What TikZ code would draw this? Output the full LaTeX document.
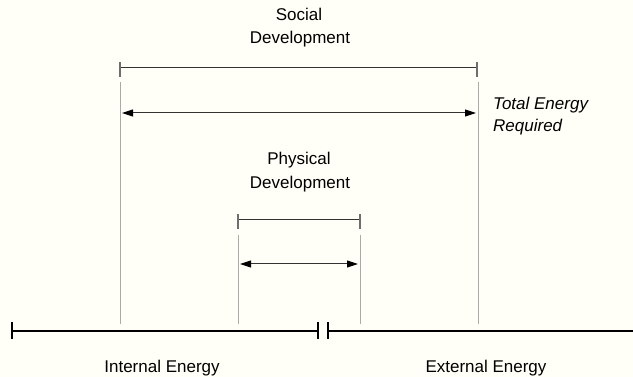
\documentclass[tikz,border=0pt]{standalone}
\usepackage{fontspec}
\setmainfont{Liberation Sans}
\usetikzlibrary{arrows.meta}
\definecolor{paper}{RGB}{255,255,247}
\definecolor{barline}{RGB}{51,51,51}
\definecolor{tickgray}{RGB}{110,110,110}
\definecolor{guide}{RGB}{170,170,170}
\tikzset{
  label/.style={inner sep=0pt, anchor=base, font=\fontsize{17}{23}\selectfont},
  axisline/.style={line width=2pt, black},
  axistick/.style={line width=2pt, black},
  spanbar/.style={line width=1pt, barline},
  spantick/.style={line width=1.3pt, tickgray},
  guideline/.style={line width=1pt, guide},
  spanarrow/.style={line width=1pt, barline,
    {Triangle[length=11pt,width=7pt,black]}-{Triangle[length=11pt,width=7pt,black]}}
}
\begin{document}
\begin{tikzpicture}[x=1pt,y=-1pt]
  \fill[paper] (0,0) rectangle (633,377);
  \useasboundingbox (0,0) rectangle (633,377);

  % energy axis
  \coordinate (axL) at (12,331);
  \coordinate (axM1) at (318,331);
  \coordinate (axM2) at (328,331);
  \coordinate (axR) at (633,331);
  \draw[axisline] (axL) -- (axM1);
  \draw[axisline] (axM2) -- (axR);
  \draw[axistick] ([yshift=-8pt]axL) -- ([yshift=9pt]axL);
  \draw[axistick] ([yshift=-8pt]axM1) -- ([yshift=9pt]axM1);
  \draw[axistick] ([yshift=-8pt]axM2) -- ([yshift=9pt]axM2);

  % social development span
  \coordinate (sL) at (120,68);
  \coordinate (sR) at (477,68);
  \draw[spanbar] (sL) -- (sR);
  \draw[spantick] ([yshift=-9pt]sL) -- ([yshift=6pt]sL);
  \draw[spantick] ([yshift=-9pt]sR) -- ([yshift=6pt]sR);
  \coordinate (gsLt) at (120,82);
  \coordinate (gsLb) at (120,324);
  \coordinate (gsRt) at (478,82);
  \coordinate (gsRb) at (478,324);
  \draw[guideline] (gsLt) -- (gsLb);
  \draw[guideline] (gsRt) -- (gsRb);
  \coordinate (saL) at (122,113);
  \coordinate (saR) at (476,113);
  \draw[spanarrow] (saL) -- (saR);

  % physical development span
  \coordinate (pL) at (238,220);
  \coordinate (pR) at (360,220);
  \draw[spanbar] (pL) -- (pR);
  \draw[spantick] ([yshift=-9pt]pL) -- ([yshift=6pt]pL);
  \draw[spantick] ([yshift=-9pt]pR) -- ([yshift=6pt]pR);
  \coordinate (gpLt) at (238,235);
  \coordinate (gpLb) at (238,324);
  \coordinate (gpRt) at (360,235);
  \coordinate (gpRb) at (360,324);
  \draw[guideline] (gpLt) -- (gpLb);
  \draw[guideline] (gpRt) -- (gpRb);
  \coordinate (paL) at (240,264);
  \coordinate (paR) at (358,264);
  \draw[spanarrow] (paL) -- (paR);

  % labels
  \node[label] (social1) at (299,21) {Social};
  \node[label] (social2) at (300,44) {Development};
  \node[label] (phys1) at (299,165) {Physical};
  \node[label] (phys2) at (300,189) {Development};
  \node[label, anchor=base west, font=\fontsize{17}{23}\selectfont\itshape] (total1) at (493,110) {Total Energy};
  \node[label, anchor=base west, font=\fontsize{17}{23}\selectfont\itshape] (total2) at (493,132) {Required};
  \node[label] (internal) at (162,373) {Internal Energy};
  \node[label] (external) at (486,373) {External Energy};
\end{tikzpicture}
\end{document}
